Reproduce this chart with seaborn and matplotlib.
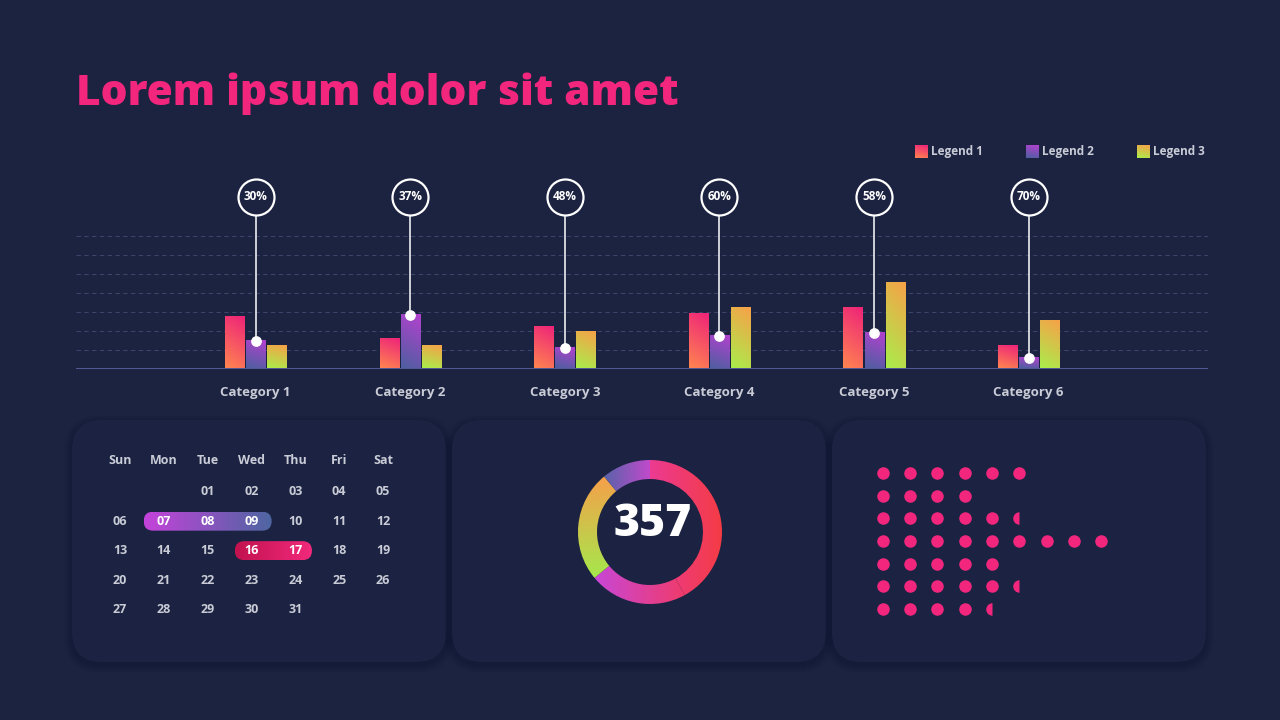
import numpy as np
import pandas as pd
import seaborn as sns
import matplotlib.pyplot as plt
from matplotlib.patches import FancyBboxPatch
from matplotlib.markers import MarkerStyle
from matplotlib.colors import to_rgb

# ---- data ----
CATEGORIES = ['Category 1', 'Category 2', 'Category 3', 'Category 4', 'Category 5', 'Category 6']
SERIES = ['Legend 1', 'Legend 2', 'Legend 3']
LEGEND_1 = [2.7, 1.55, 2.2, 2.85, 3.2, 1.2]
LEGEND_2 = [1.45, 2.8, 1.1, 1.7, 1.85, 0.55]
LEGEND_3 = [1.2, 1.2, 1.9, 3.2, 4.5, 2.5]
PERCENT_LABELS = ['30%', '37%', '48%', '60%', '58%', '70%']

DONUT_TOTAL = '357'
DONUT_SHARES = [42, 22, 25, 11]

WEEKDAYS = ['Sun', 'Mon', 'Tue', 'Wed', 'Thu', 'Fri', 'Sat']
MONTH_DAYS = 31
FIRST_WEEKDAY = 2
RANGE_1 = [7, 8, 9]
RANGE_2 = [16, 17]

DOT_COUNTS = [6, 4, 5.5, 9, 5, 5.5, 4.5]

# ---- colours ----
BG = '#1C2341'
CARD = '#1C2342'
PINK = '#F2267D'
GRAY = '#C9CCD6'
BAR_GRADIENTS = [('#FF8550', '#EE2379'), ('#4D5FA0', '#B441CF'), ('#A9EE4B', '#F7A148')]
DONUT_GRADIENTS = [('#EC3A92', '#F43C44', 'h'), ('#C847D6', '#F03B6B', 'h'),
                   ('#A5E84C', '#F6A04A', 'v'), ('#5963AA', '#C04ACB', 'h')]
PILL_GRADIENTS = [('#C443DA', '#4E66A2'), ('#C2124F', '#F22A7C')]
FONT = ['Open Sans', 'DejaVu Sans']

sns.set_style('dark', rc={'axes.facecolor': 'none', 'figure.facecolor': BG})
plt.rcParams['font.family'] = FONT


def grad_img(c0, c1, mode='d', n=64):
    yy, xx = np.mgrid[0:1:n * 1j, 0:1:n * 1j]
    if mode == 'h':
        t = xx
    elif mode == 'v':
        t = yy
    else:
        t = 0.8 * yy + 0.2 * xx
    a, b = np.array(to_rgb(c0)), np.array(to_rgb(c1))
    return a * (1 - t[..., None]) + b * t[..., None]


fig = plt.figure(figsize=(12.8, 7.2), dpi=100)

# background layer in pixel coordinates (cards, legend swatches)
bg = fig.add_axes([0, 0, 1, 1], zorder=0)
bg.set_xlim(0, 1280)
bg.set_ylim(720, 0)
bg.axis('off')
for x0 in [72, 452, 832]:
    for k in range(8, 0, -1):
        bg.add_patch(FancyBboxPatch((x0 - k, 420 - k + 3), 374 + 2 * k, 242 + 2 * k,
                                    boxstyle=f'round,pad=0,rounding_size={30 + k}',
                                    fc='#0C1126', ec='none', alpha=0.035))
    bg.add_patch(FancyBboxPatch((x0, 420), 374, 242, boxstyle='round,pad=0,rounding_size=30',
                                fc=CARD, ec='none'))

for i, (name, (c0, c1)) in enumerate(zip(SERIES, BAR_GRADIENTS)):
    lx = 915 + 111 * i
    bg.imshow(grad_img(c0, c1), extent=[lx, lx + 13, 158, 145], origin='lower',
              aspect='auto', interpolation='bilinear')
    bg.text(lx + 16, 151, name, color=GRAY, fontsize=8.5, fontweight='bold', va='center')
bg.set_xlim(0, 1280)
bg.set_ylim(720, 0)

fig.text(76 / 1280, 1 - 105 / 720, 'Lorem ipsum dolor sit amet', color=PINK,
         fontsize=30.5, fontweight='heavy', va='baseline')

# ---- grouped bar chart ----
df = pd.DataFrame({'category': CATEGORIES * 3,
                   'series': np.repeat(SERIES, len(CATEGORIES)),
                   'value': LEGEND_1 + LEGEND_2 + LEGEND_3})
ax = fig.add_axes([76 / 1280, (720 - 368.5) / 720, 1132 / 1280, 190 / 720], zorder=2)
sns.barplot(data=df, x='category', y='value', hue='series', palette=['#888'] * 3,
            width=0.41, gap=0.1, legend=False, ax=ax)
for cont, (c0, c1) in zip(ax.containers, BAR_GRADIENTS):
    for bar in cont:
        x, y, w, h = bar.get_x(), bar.get_y(), bar.get_width(), bar.get_height()
        ax.imshow(grad_img(c0, c1), extent=[x, x + w, y, y + h], origin='lower',
                  aspect='auto', interpolation='bilinear', zorder=3)
        bar.set_visible(False)

xpos = np.arange(len(CATEGORIES))
ax.vlines(xpos, LEGEND_2, 9.05, color='white', lw=1.1, zorder=4)
ax.scatter(xpos, LEGEND_2, s=45, color='white', zorder=6)
ax.scatter(xpos, [9.05] * len(xpos), s=672, facecolor=BG, edgecolor='white', lw=1.6,
           zorder=5, clip_on=False)
for xp, lab in zip(xpos, PERCENT_LABELS):
    ax.text(xp, 9.05, lab, color='white', fontsize=8.5, fontweight='bold',
            ha='center', va='center', zorder=7)

ax.set_xlim(-1.161, 6.16)
ax.set_ylim(0, 10)
ax.set_yticks(range(1, 8))
ax.grid(axis='y', color='#3A4368', lw=0.8, ls=(0, (4, 3)))
ax.grid(axis='x', visible=False)
ax.axhline(0, color='#5C64A6', lw=1.2, zorder=3)
ax.tick_params(axis='y', left=False, labelleft=False)
ax.tick_params(axis='x', length=0, pad=12.5, labelcolor=GRAY, labelsize=9.5)
for t in ax.get_xticklabels():
    t.set_fontweight('bold')
ax.set_xlabel('')
ax.set_ylabel('')
for s in ax.spines.values():
    s.set_visible(False)

# ---- calendar ----
cal = fig.add_axes([72 / 1280, (720 - 662) / 720, 374 / 1280, 242 / 720], zorder=2)
cal.set_xlim(-1.095, 7.438)
cal.set_ylim(5.776, -2.431)
cal.axis('off')
for c, wd in enumerate(WEEKDAYS):
    cal.text(c, -1.05, wd, color=GRAY, fontsize=9, fontweight='bold', ha='center', va='center')

for days, (c0, c1), pad in [(RANGE_1, PILL_GRADIENTS[0], 0.46), (RANGE_2, PILL_GRADIENTS[1], 0.38)]:
    i0, i1 = days[0] - 1 + FIRST_WEEKDAY, days[-1] - 1 + FIRST_WEEKDAY
    r = i0 // 7
    x0, x1 = i0 % 7 - pad, i1 % 7 + pad
    h = 0.644
    pill = FancyBboxPatch((x0, r - h / 2), x1 - x0, h,
                          boxstyle='round,pad=0,rounding_size=0.2167',
                          mutation_aspect=1.486, fc='none', ec='none')
    cal.add_patch(pill)
    im = cal.imshow(grad_img(c0, c1, 'h'), extent=[x0, x1, r + h / 2, r - h / 2],
                    origin='lower', aspect='auto', interpolation='bilinear', zorder=2)
    im.set_clip_path(pill)

highlight = set(RANGE_1 + RANGE_2)
for d in range(1, MONTH_DAYS + 1):
    idx = d - 1 + FIRST_WEEKDAY
    cal.text(idx % 7, idx // 7, f'{d:02d}', ha='center', va='center', fontsize=9,
             fontweight='bold', color='white' if d in highlight else GRAY, zorder=3)
cal.set_xlim(-1.095, 7.438)
cal.set_ylim(5.776, -2.431)

# ---- donut ----
dn = fig.add_axes([570 / 1280, (720 - 612) / 720, 160 / 1280, 160 / 720], zorder=2)
wedges, _ = dn.pie(DONUT_SHARES, radius=1, startangle=90, counterclock=False,
                   wedgeprops=dict(width=0.264, edgecolor='none'))
for wdg, (c0, c1, mode) in zip(wedges, DONUT_GRADIENTS):
    ext = wdg.get_path().get_extents()
    wdg.set_facecolor('none')
    im = dn.imshow(grad_img(c0, c1, mode), extent=[ext.x0, ext.x1, ext.y0, ext.y1],
                   origin='lower', aspect='auto', interpolation='bilinear', zorder=2)
    im.set_clip_path(wdg)
dn.set_xlim(-1.111, 1.111)
dn.set_ylim(-1.111, 1.111)
dn.axis('off')
dn.text(0.03, 0.1, DONUT_TOTAL, color='white', fontsize=32, fontweight='heavy',
        ha='center', va='center', zorder=3)

# ---- dot matrix ----
dm = fig.add_axes([832 / 1280, (720 - 662) / 720, 374 / 1280, 242 / 720], zorder=2)
full = pd.DataFrame([(j, r) for r, c in enumerate(DOT_COUNTS) for j in range(int(c))],
                    columns=['col', 'row'])
half = pd.DataFrame([(int(c), r) for r, c in enumerate(DOT_COUNTS) if c % 1],
                    columns=['col', 'row'])
sns.scatterplot(data=full, x='col', y='row', s=81, color=PINK, linewidth=0, ax=dm)
dm.scatter(half['col'], half['row'], s=81, color=PINK, linewidth=0,
           marker=MarkerStyle('o', fillstyle='left'))
dm.set_xlim(-1.864, 11.835)
dm.set_ylim(8.36, -2.362)
dm.axis('off')

fig.savefig('out.png', dpi=100, facecolor=BG)
